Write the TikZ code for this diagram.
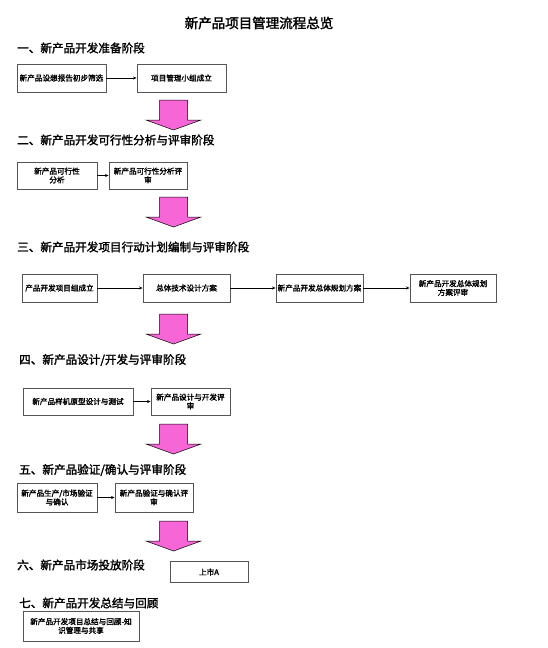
\documentclass[tikz,border=0pt]{standalone}
\usepackage{fontspec}
\setmainfont{Noto Sans CJK SC}[AutoFakeBold=2]
\usetikzlibrary{arrows.meta}
\definecolor{pinkfill}{HTML}{F766D6}
\definecolor{boxline}{HTML}{555555}
\tikzset{
  box/.style={draw=boxline, line width=0.9pt, fill=white, align=center, inner sep=0.5pt,
    font=\fontsize{7.6}{8.8}\selectfont\bfseries},
  head/.style={anchor=west, inner sep=0pt, font=\fontsize{11.6}{13}\selectfont\bfseries},
  link/.style={draw=black, line width=0.6pt, -{Stealth[length=3.5pt,width=3pt]}},
  bigarrow/.style={fill=pinkfill, draw=black, line width=0.5pt, line join=miter}
}
\newcommand{\pinkdown}[3]{%
  % #1 name, #2 center x, #3 top y
  \path[bigarrow] (#2-14,#3) -- (#2+14,#3) -- (#2+14,#3+20) -- (#2+27.5,#3+20)
     -- (#2,#3+30) -- (#2-27.5,#3+20) -- (#2-14,#3+20) -- cycle;
  \coordinate (#1) at (#2,#3);
}
\begin{document}
\begin{tikzpicture}[x=1pt,y=-1pt]
\useasboundingbox[fill=white] (0,0) rectangle (548,648);

\node[inner sep=0pt, font=\fontsize{13.5}{15}\selectfont\bfseries] (title) at (259,23) {新产品项目管理流程总览};

% Stage 1
\node[head] (h1) at (17,48) {一、新产品开发准备阶段};
\node[box, minimum width=89pt, minimum height=28pt] (b1a) at (61.5,78) {新产品设想报告初步筛选};
\node[box, minimum width=89pt, minimum height=28pt] (b1b) at (181.5,78) {项目管理小组成立};
\draw[link] (b1a) -- (b1b);
\pinkdown{p1}{173.5}{100}

% Stage 2
\node[head] (h2) at (17,140) {二、新产品开发可行性分析与评审阶段};
\node[box, minimum width=80pt, minimum height=27pt] (b2a) at (57,175.5) {新产品可行性\\分析};
\node[box, minimum width=78pt, minimum height=27pt] (b2b) at (148,175.5) {新产品可行性分析评\\审};
\draw[link] (b2a) -- (b2b);
\pinkdown{p2}{173.5}{197}

% Stage 3
\node[head] (h3) at (17,247) {三、新产品开发项目行动计划编制与评审阶段};
\node[box, minimum width=75pt, minimum height=28pt] (b3a) at (59.5,288) {产品开发项目组成立};
\node[box, minimum width=87pt, minimum height=28pt] (b3b) at (186.5,288) {总体技术设计方案};
\node[box, minimum width=87pt, minimum height=28pt] (b3c) at (319.5,288) {新产品开发总体规划方案};
\node[box, minimum width=86pt, minimum height=28pt] (b3d) at (453,288) {新产品开发总体规划\\方案评审};
\draw[link] (b3a) -- (b3b);
\draw[link] (b3b) -- (b3c);
\draw[link] (b3c) -- (b3d);
\pinkdown{p3}{173.5}{314}

% Stage 4
\node[head] (h4) at (19,360) {四、新产品设计/开发与评审阶段};
\node[box, minimum width=110pt, minimum height=27pt] (b4a) at (78,401.5) {新产品样机原型设计与测试};
\node[box, minimum width=79pt, minimum height=27pt] (b4b) at (190.5,401.5) {新产品设计与开发评\\审};
\draw[link] (b4a) -- (b4b);
\pinkdown{p4}{173.5}{424}

% Stage 5
\node[head] (h5) at (19,470) {五、新产品验证/确认与评审阶段};
\node[box, minimum width=80pt, minimum height=29pt] (b5a) at (57,497.5) {新产品生产/市场验证\\与确认};
\node[box, minimum width=78pt, minimum height=29pt] (b5b) at (154,497.5) {新产品验证与确认评\\审};
\draw[link] (b5a) -- (b5b);
\pinkdown{p5}{173.5}{521}

% Stage 6
\node[head] (h6) at (17,565) {六、新产品市场投放阶段};
\node[box, minimum width=78pt, minimum height=21pt] (b6) at (209,572) {上市A};

% Stage 7
\node[head] (h7) at (19,603) {七、新产品开发总结与回顾};
\node[box, minimum width=116pt, minimum height=30pt] (b7) at (81,626) {新产品开发项目总结与回顾-知\\识管理与共享};
\end{tikzpicture}
\end{document}
